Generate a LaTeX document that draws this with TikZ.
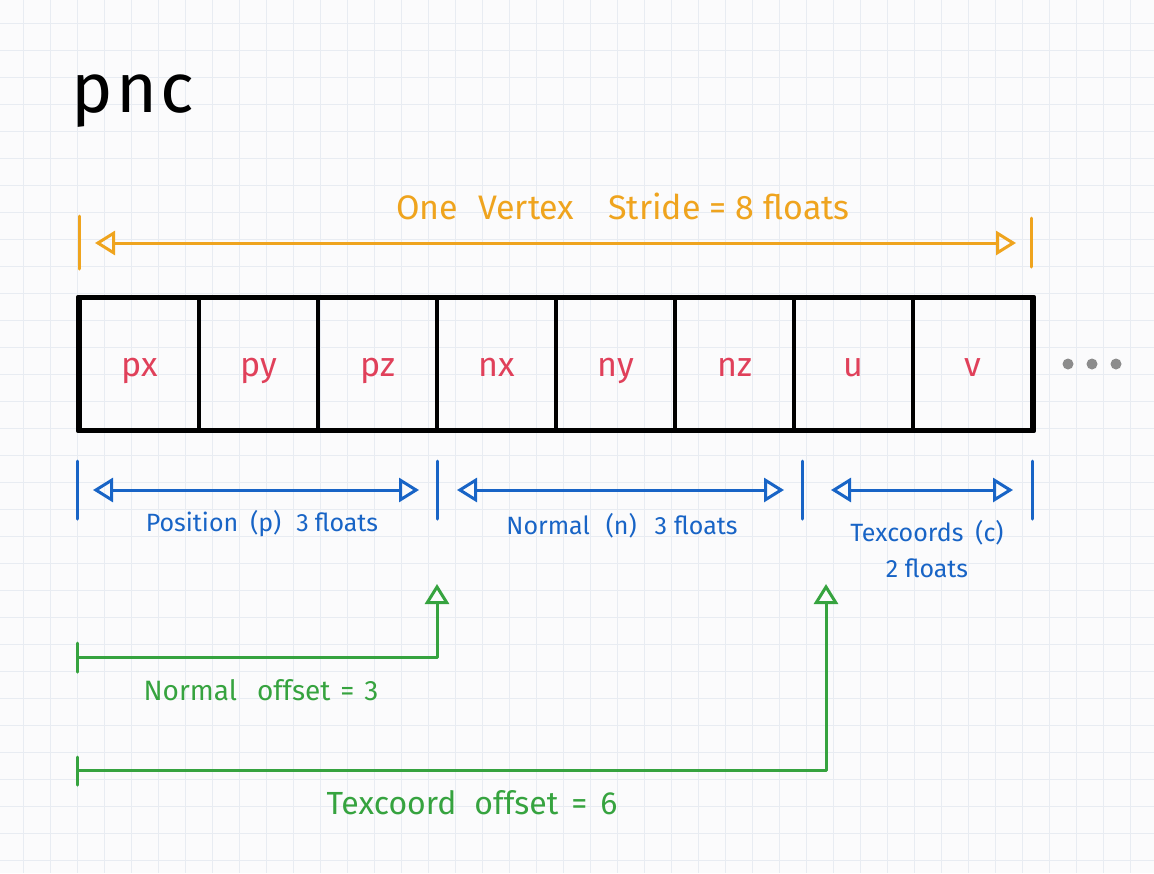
\documentclass[tikz,border=0pt]{standalone}
\usepackage{fontspec}
\setmainfont{Fira Sans}
\usetikzlibrary{arrows.meta}
\definecolor{bgc}{HTML}{FBFBFC}
\definecolor{gridc}{HTML}{E8ECF2}
\definecolor{orng}{HTML}{EFA41E}
\definecolor{redc}{HTML}{E0405A}
\definecolor{bluec}{HTML}{1864C6}
\definecolor{greenc}{HTML}{36A33F}
\definecolor{dotc}{HTML}{8C8C8C}
\newcommand{\wsp}{\hspace{0.55em}}
\newcommand{\gap}[1]{\hspace{#1pt}}
\tikzset{
  cell/.style={draw=black, line width=3.6pt, minimum width=119pt, minimum height=131pt, inner sep=0pt},
  celltext/.style={anchor=base, text=redc, font=\fontsize{34}{38}\selectfont},
  tickline/.style={line width=3pt, line cap=round},
  opentip/.tip={Triangle[open,length=20pt,width=24pt,line width=3pt]},
  dimarrow/.style={line width=3pt, line cap=round, opentip-opentip},
  offarrow/.style={greenc, line width=3pt, line join=round, -opentip},
  olabel/.style={text=orng, font=\fontsize{34}{38}\selectfont},
  blabel/.style={text=bluec, font=\fontsize{25}{36}\selectfont, align=center},
  glabel/.style={text=greenc, font=\fontsize{28}{34}\selectfont},
}
\begin{document}
\begin{tikzpicture}[x=1pt,y=-1pt]
\fill[bgc] (0,0) rectangle (1154,873);
\useasboundingbox (0,0) rectangle (1154,873);
\foreach \x in {23,50,...,1154} \draw[gridc, line width=0.8pt] (\x,0) -- (\x,873);
\foreach \y in {23,50,...,873} \draw[gridc, line width=0.8pt] (0,\y) -- (1154,\y);

% title
\node[anchor=base west, font=\fontsize{70}{76}\selectfont\addfontfeature{LetterSpace=5}, inner sep=0pt] (title) at (71,112) {pnc};

% orange stride
\coordinate (oL1) at (79,216); \coordinate (oL2) at (79,269);
\coordinate (oR1) at (1031,218); \coordinate (oR2) at (1031,267);
\draw[orng, tickline] (oL1) -- (oL2);
\draw[orng, tickline] (oR1) -- (oR2);
\coordinate (oa) at (95,243); \coordinate (ob) at (1016,243);
\draw[orng, dimarrow] (oa) -- (ob);
\node[olabel] (olab) at (623,206) {One\gap{20}Vertex\gap{34}Stride = 8 floats};

% cells
\foreach \t [count=\i from 0] in {px,py,pz,nx,ny,nz,u,v} {
  \node[cell] (c\i) at ({139.5+119*\i},364) {};
  \node[celltext] (t\i) at ([yshift=-12pt]c\i.center) {\t};
}
\draw[line width=3.8pt, line join=round] (c0.north west) rectangle (c7.south east);

% dots
\foreach \x/\n in {1068/d1,1092/d2,1116/d3} \fill[dotc] (\x,364) circle (5.5pt) coordinate (\n);

% blue dimensions
\foreach \x/\n in {77/b1,437/b2,802/b3,1032/b4} {
  \coordinate (\n t) at (\x,461); \coordinate (\n b) at (\x,519);
  \draw[bluec, tickline] (\n t) -- (\n b);
}
\coordinate (pa) at (93,490); \coordinate (pb) at (419,490);
\coordinate (na) at (457,490); \coordinate (nb) at (784,490);
\coordinate (ta) at (831,490); \coordinate (tb) at (1013,490);
\draw[bluec, dimarrow] (pa) -- (pb);
\draw[bluec, dimarrow] (na) -- (nb);
\draw[bluec, dimarrow] (ta) -- (tb);
\node[blabel] (plab) at (262,524) {Position\gap{12}(p)\gap{15}3\gap{6}floats};
\node[blabel] (nlab) at (622,526) {Normal\gap{16}(n)\gap{18}3\gap{7}floats};
\node[blabel] (tlab) at (927,549) {Texcoords\gap{12}(c)\\2 floats};

% green offsets
\coordinate (g1t) at (77,643); \coordinate (g1b) at (77,672);
\draw[greenc, tickline] (g1t) -- (g1b);
\coordinate (g1s) at (77,657); \coordinate (g1e) at (437,584);
\draw[offarrow] (g1s) -| (g1e);
\node[glabel] (g1lab) at (261,690) {Normal\gap{20}offset\gap{10}=\gap{10}3};

\coordinate (g2t) at (77,757); \coordinate (g2b) at (77,785);
\draw[greenc, tickline] (g2t) -- (g2b);
\coordinate (g2s) at (77,770); \coordinate (g2e) at (826,584);
\draw[offarrow] (g2s) -| (g2e);
\node[glabel, font=\fontsize{32}{36}\selectfont] (g2lab) at (472,803) {Texcoord\gap{18}offset\gap{13}=\gap{13}6};
\end{tikzpicture}
\end{document}
